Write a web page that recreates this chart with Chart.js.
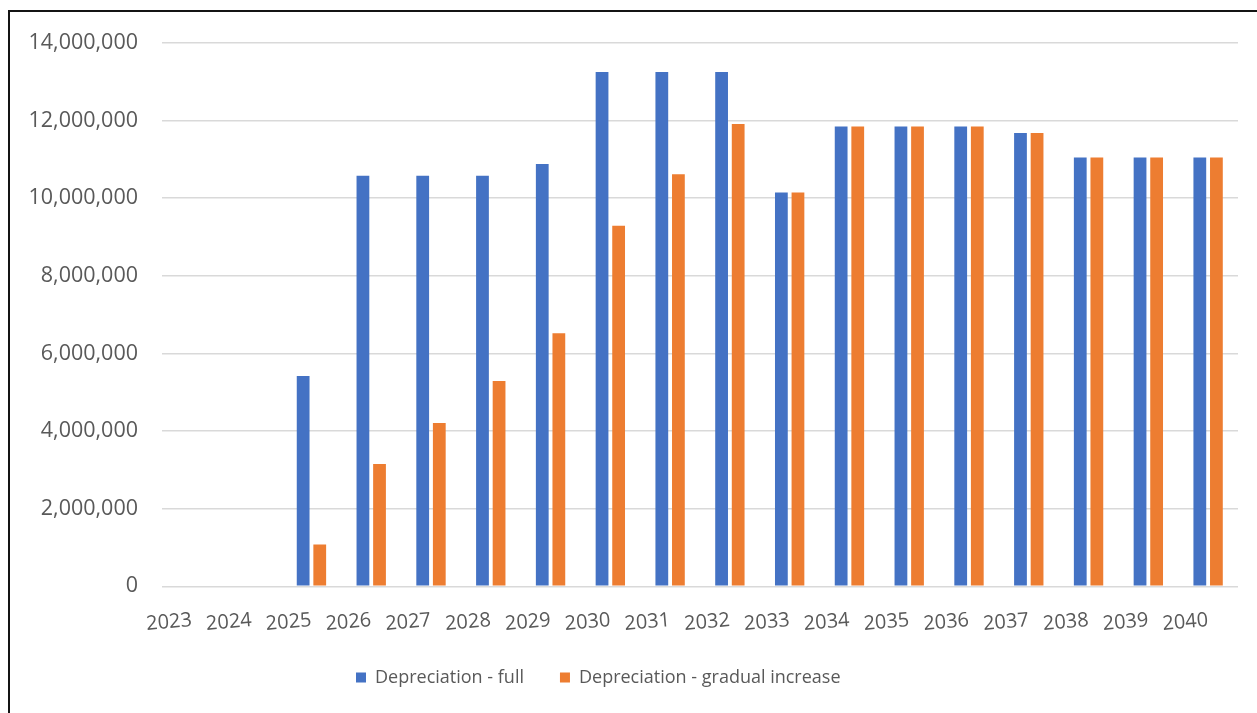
<!DOCTYPE html>
<html>
<head>
<meta charset="utf-8">
<script src="https://cdn.jsdelivr.net/npm/chart.js@4/dist/chart.umd.min.js"></script>
<style>
  html, body { margin: 0; padding: 0; background: #ffffff; overflow: hidden; }
  #frame {
    position: absolute; left: 8px; top: 10px; width: 1400px; height: 900px;
    border: 2px solid #141414; box-sizing: border-box;
  }
  #wrap { position: absolute; left: 0; top: 0; width: 1257px; height: 713px; }
</style>
</head>
<body>
<div id="frame"></div>
<div id="wrap"><canvas id="chart" width="1257" height="713"></canvas></div>
<script>
// Years on the category axis
const years = ['2023', '2024', '2025', '2026', '2027', '2028', '2029', '2030', '2031',
               '2032', '2033', '2034', '2035', '2036', '2037', '2038', '2039', '2040'];

// Annual depreciation, full scenario
const depreciationFull = [0, 0, 5420000, 10580000, 10580000, 10580000, 10880000, 13250000, 13250000,
                          13250000, 10150000, 11850000, 11850000, 11850000, 11680000, 11050000, 11050000, 11050000];

// Annual depreciation, gradual increase scenario
const depreciationGradual = [0, 0, 1080000, 3150000, 4210000, 5290000, 6520000, 9290000, 10620000,
                             11910000, 10150000, 11850000, 11850000, 11850000, 11680000, 11050000, 11050000, 11050000];

const seriesNames = ['Depreciation - full', 'Depreciation - gradual increase'];

// Value axis range and tick spacing
const yMin = 0;
const yMax = 14000000;
const yStep = 2000000;

const textColor = '#595959';
const fontFamily = "'Open Sans', 'Noto Sans', sans-serif";

// Places the legend row at a fixed spot below the x-axis labels
const legendPlacement = {
  id: 'legendPlacement',
  afterLayout(chart) {
    const lg = chart.legend;
    if (!lg) return;
    const pad = lg.options.labels.padding;
    lg.left = 356 - pad;
    lg.top = 632.5;
  }
};

new Chart(document.getElementById('chart'), {
  type: 'bar',
  data: {
    labels: years,
    datasets: [
      {
        label: seriesNames[0],
        data: depreciationFull,
        backgroundColor: '#4472C4',
        borderWidth: 0,
        categoryPercentage: 0.555,
        barPercentage: 0.77
      },
      {
        label: seriesNames[1],
        data: depreciationGradual,
        backgroundColor: '#ED7D31',
        borderWidth: 0,
        categoryPercentage: 0.555,
        barPercentage: 0.77
      }
    ]
  },
  options: {
    responsive: false,
    animation: false,
    layout: { padding: { left: 0, right: 19, top: 43, bottom: 15 } },
    plugins: {
      tooltip: { enabled: false },
      legend: {
        position: 'bottom',
        align: 'start',
        maxHeight: 40,
        labels: {
          boxWidth: 10,
          boxHeight: 10,
          padding: 36,
          color: textColor,
          font: { family: fontFamily, size: 18 }
        }
      }
    },
    scales: {
      x: {
        grid: { display: false, drawTicks: false },
        border: { display: false },
        ticks: {
          color: textColor,
          font: { family: fontFamily, size: 20 },
          minRotation: 5,
          maxRotation: 5,
          autoSkip: false,
          padding: 22
        },
        afterFit: (scale) => { scale.height = 71.7; }
      },
      y: {
        min: yMin,
        max: yMax,
        grid: { color: '#d9d9d9', lineWidth: 1.5, drawTicks: false },
        border: { display: false },
        ticks: {
          stepSize: yStep,
          color: textColor,
          font: { family: fontFamily, size: 21.5 },
          padding: 24,
          callback: (v) => Number(v).toLocaleString('en-US')
        },
        afterFit: (scale) => { scale.width = 162; }
      }
    }
  },
  plugins: [legendPlacement]
});
</script>
</body>
</html>
